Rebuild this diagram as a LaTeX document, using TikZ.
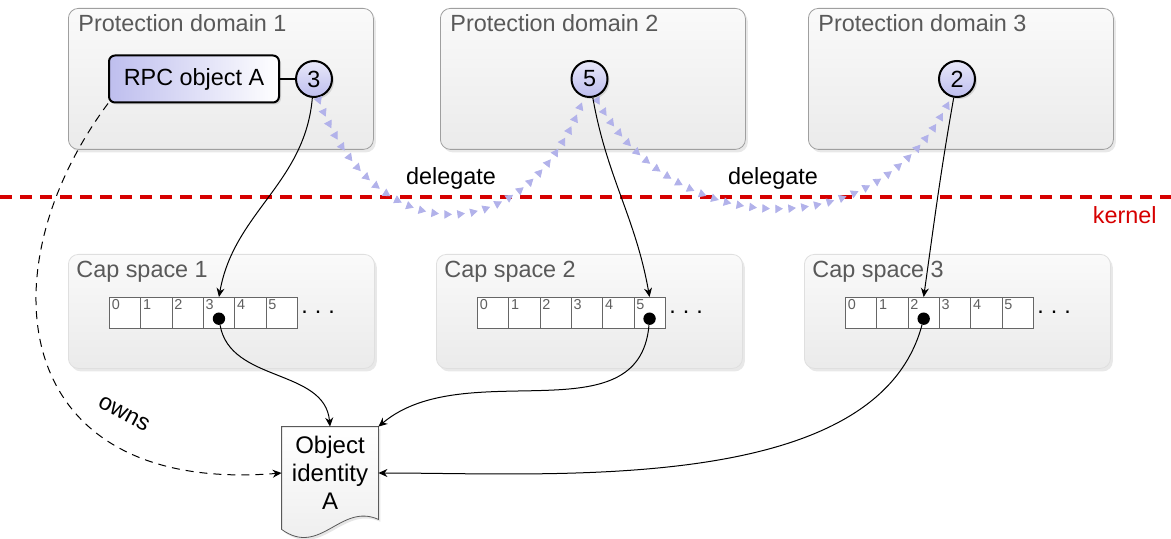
\documentclass[tikz,border=0pt]{standalone}
\usepackage{fontspec}
\setmainfont{Liberation Sans}
\usetikzlibrary{arrows.meta}
\usetikzlibrary{calc}
\usetikzlibrary{shadows}
\usetikzlibrary{decorations.markings}

\definecolor{capblue}{RGB}{190,190,238}
\definecolor{delegblue}{RGB}{178,178,234}
\definecolor{kernelred}{RGB}{214,0,0}

\pgfdeclarelayer{background}
\pgfsetlayers{background,main}

\tikzset{
    frame/.style={rectangle, anchor=north west, inner sep=0pt, rounded corners=5pt,
        top color=gray!4, bottom color=gray!16,
        drop shadow={shadow xshift=1.2pt, shadow yshift=-1.5pt, opacity=0.18}},
    pdframe/.style={frame, draw=gray!75, minimum width=152.5pt, minimum height=70.5pt},
    csframe/.style={frame, draw=gray!25, minimum width=153pt, minimum height=57pt},
    framelabel/.style={anchor=base west, inner sep=0pt, text=gray!70!black},
    rpcbox/.style={draw, line width=1pt, rounded corners=3pt, left color=capblue, right color=white,
        minimum width=85pt, minimum height=23.5pt, inner sep=0pt,
        drop shadow={shadow xshift=1pt, shadow yshift=-1pt, opacity=0.25}},
    handle/.style={circle, draw, line width=1pt, minimum size=18pt, inner sep=0pt,
        top color=capblue!35, bottom color=capblue,
        drop shadow={shadow xshift=1pt, shadow yshift=-1pt, opacity=0.25}},
    slot/.style={draw=gray!80!black, fill=white, anchor=north west, inner sep=0pt,
        minimum width=15.65pt, minimum height=15.3pt},
    slotnum/.style={anchor=north west, inner sep=1.2pt, font=\fontsize{7.2}{8}\selectfont, text=gray!75!black},
    capdot/.style={circle, fill=black, inner sep=0pt, minimum size=6.2pt},
    points/.style={-{Stealth[length=4.5pt, width=4pt]}, line width=0.5pt},
    delegation/.style={postaction={decorate}, decoration={markings,
        mark=between positions 0.02 and 0.99 step 6.5pt with {\arrow[delegblue]{Triangle[length=3.8pt, width=4.2pt]}}}},
    docfill/.style={draw=gray!70!black, top color=white, bottom color=gray!15,
        drop shadow={shadow xshift=1pt, shadow yshift=-1.2pt, opacity=0.2}},
}

\begin{document}
\begin{tikzpicture}[x=0.5pt, y=-0.5pt, font=\fontsize{11.7}{14}\selectfont]
    \useasboundingbox (0,0) rectangle (1171,539);

    % protection domains
    \foreach \d/\x in {1/68, 2/440, 3/808} {
        \node[pdframe] (pd\d) at (\x,8) {};
        \node[framelabel] (pdlabel\d) at (\x+10,32) {Protection domain \d};
    }

    % cap spaces with their slots
    \foreach \s/\x/\k in {1/68/3, 2/436/5, 3/804/2} {
        \node[csframe] (cs\s) at (\x,254) {};
        \node[framelabel] (cslabel\s) at (\x+8,278) {Cap space \s};
        \foreach \i in {0,...,5} {
            \node[slot] (c\s-\i) at (\x+41+\i*31.3,297) {};
            \node[slotnum] (n\s-\i) at (c\s-\i.north west) {\i};
        }
        \node (more\s) at (\x+250,312) {.\hspace{3.5pt}.\hspace{3.5pt}.};
        \node[capdot] (dot\s) at ($(c\s-\k.center)+(0,6)$) {};
    }

    % kernel boundary
    \coordinate (kleft) at (0,197);
    \coordinate (kright) at (1171,197);
    \draw[kernelred, line width=1.6pt, dash pattern=on 6pt off 4pt] (kleft) -- (kright);
    \node[kernelred, anchor=base east, inner sep=0pt] (kernel) at (1157,224) {kernel};

    % user level objects
    \node[rpcbox] (rpc) at (194,79) {RPC object A};
    \node[handle] (h1) at (314,79) {3};
    \node[handle] (h2) at (589.5,79) {5};
    \node[handle] (h3) at (957,79) {2};
    \draw[line width=1.4pt] (rpc) -- (h1);

    % the object itself
    \node[inner sep=0pt, minimum width=48pt, minimum height=46pt, align=center,
          font=\fontsize{12}{14}\selectfont] (obj) at (330,473) {Object\\identity\\A};
    \begin{pgfonlayer}{background}
        \path[docfill] (obj.north west) -- (obj.north east) -- (obj.south east)
            .. controls ($(obj.south east)+(-38,-17)$) and ($(obj.south east)+(-58,38)$)
            .. ($(obj.south west)+(0,10)$) -- cycle;
    \end{pgfonlayer}

    % delegation
    \path[delegation] (h1.-78) to[out=-70, in=-110, looseness=1.6] (h2.-107);
    \path[delegation] (h2.-72) to[out=-62, in=-115, looseness=1.2] (h3.-108);
    \node (del1) at (451,178) {delegate};
    \node (del2) at (773,178) {delegate};

    % handles into the cap spaces
    \draw[points] (h1) to[out=-95, in=80] (c1-3.north);
    \draw[points] (h2) to[out=-80, in=100] (c2-5.north);
    \draw[points] (h3) to[out=-100, in=82] (c3-2.north);

    % slots to the object
    \draw[points] (dot1) to[out=-80, in=95] (obj.north);
    \draw[points] (dot2) to[out=-95, in=40] (obj.north east);
    \draw[points] (dot3) to[out=-105, in=0, looseness=0.8] (obj.east);

    % ownership
    \draw[points, dash pattern=on 4pt off 3pt] (rpc.south west)
        .. controls +(-125,168) and +(-272,22) .. (obj.west);
    \node[rotate=-28, inner sep=1pt] (ownslabel) at (124,414) {owns};
\end{tikzpicture}
\end{document}
